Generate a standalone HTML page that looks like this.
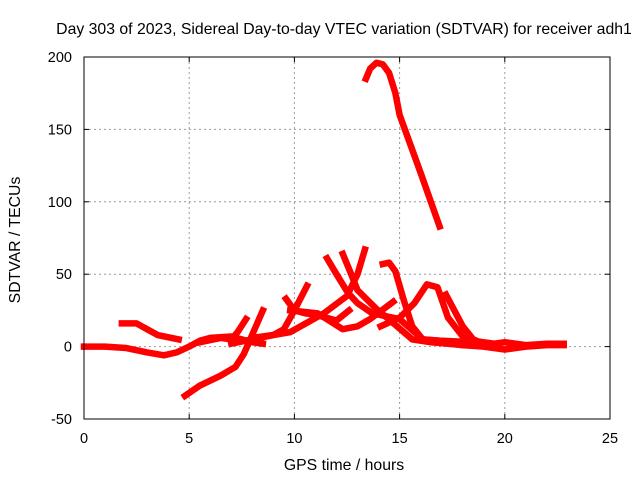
<!DOCTYPE html>
<html><head><meta charset="utf-8"><style>
body{margin:0;background:#fff;}
svg{display:block;font-family:"Liberation Sans",sans-serif;}
</style></head><body>
<svg id="chart" width="640" height="480">
<text x="344" y="34" text-anchor="middle" font-size="15.8">Day 303 of 2023, Sidereal Day-to-day VTEC variation (SDTVAR) for receiver adh1</text>
<g id="grid"></g>
<g id="ticks"></g>
<g id="series"></g>
<rect x="84" y="57" width="526" height="362" fill="none" stroke="#000" stroke-width="1"/>
<text x="344" y="470" text-anchor="middle" font-size="15.8">GPS time / hours</text>
<text transform="translate(20,240) rotate(-90)" text-anchor="middle" font-size="15.8">SDTVAR / TECUs</text>
</svg>
<script>
const xTicks=[0,5,10,15,20,25];
const yTicks=[-50,0,50,100,150,200];
const s1=[[0,0],[1,0],[2,-1],[3,-4],[3.8,-6],[4.4,-4],[5,0],[5.5,4],[6,6],[7,7],[7.5,5],[8,3],[8.5,2]];
const s2=[[1.8,16],[2.5,16],[3,12],[3.5,8],[4.5,5]];
const s3=[[4.8,-34],[5.5,-27],[6.5,-20],[7.2,-14],[7.6,-5],[7.9,5],[8.2,15],[8.5,25]];
const s4=[[5.5,3],[6.5,6],[7,5],[7.3,10],[7.7,19]];
const s5=[[7,2],[8,5],[9,8],[9.5,12],[10,25],[10.6,42]];
const s6=[[9.6,33],[10,25],[10.5,23],[11,22],[12,18],[12.6,25]];
const s7=[[11.55,61],[12,50],[12.55,37],[13,30],[13.7,23],[15,19],[16.1,5],[17,4],[18,3],[19,1]];
const s8=[[12.3,64],[12.7,50],[13,39],[13.9,26],[14.8,15],[15.6,5],[16.5,3],[18,1]];
const s9=[[8,6],[9,8],[9.8,10],[11.4,23],[12.5,35],[13,50],[13.35,67]];
const s10=[[9.8,25],[11.1,23],[12.3,12],[13,14],[13.6,19],[14.7,31]];
const s11=[[14.2,57],[14.5,58],[14.8,52],[15.2,32],[15.6,14],[16.1,5],[17,4],[18.5,3]];
const s12=[[14.1,14],[15,20],[15.7,30],[16.3,43],[16.8,41],[17.3,20],[18,7],[18.5,3]];
const s13=[[17.2,36],[17.6,25],[18,14],[18.5,5],[19,2]];
const s14=[[17,3],[18,1],[19,0],[20,-2],[21,0],[22,1],[22.8,1]];
const s15=[[18.5,4],[19.5,2],[20,3],[21,1],[22,2],[22.8,2]];
const s16=[[13.4,185],[13.6,192],[13.9,196],[14.2,195],[14.5,189],[14.8,175],[15,160],[16,120],[16.9,83]];
const allSeries=[s1,s2,s3,s4,s5,s6,s7,s8,s9,s10,s11,s12,s13,s14,s15,s16];
const NS="http://www.w3.org/2000/svg";
const X=v=>84+(v-0)*526/25;
const Y=v=>419-(v+50)*362/250;
const grid=document.getElementById('grid'),ticks=document.getElementById('ticks'),ser=document.getElementById('series');
function mk(tag,attrs,parent){const e=document.createElementNS(NS,tag);for(const k in attrs)e.setAttribute(k,attrs[k]);parent.appendChild(e);return e;}
xTicks.forEach(t=>{
  if(t>0&&t<25){const g=mk('line',{x1:X(t),x2:X(t),y1:57,y2:419,stroke:'#999','stroke-dasharray':'2,3'},grid);
  
  }
  const tk=mk('line',{x1:X(t),x2:X(t),y1:419,y2:414,stroke:'#000'},ticks);
  
  
  const tk2=mk('line',{x1:X(t),x2:X(t),y1:57,y2:62,stroke:'#000'},ticks);
  
  
  const l=mk('text',{x:X(t),y:443,'text-anchor':'middle','font-size':'14.5'},ticks);l.textContent=t;
  
  
});
yTicks.forEach(t=>{
  if(t>-50&&t<200){const g=mk('line',{x1:84,x2:610,y1:Y(t),y2:Y(t),stroke:'#999','stroke-dasharray':'2,3'},grid);
  
  }
  const tk=mk('line',{x1:84,x2:89,y1:Y(t),y2:Y(t),stroke:'#000'},ticks);
  
  
  const tk2=mk('line',{x1:605,x2:610,y1:Y(t),y2:Y(t),stroke:'#000'},ticks);
  
  
  const l=mk('text',{x:72,y:Y(t)+5,'text-anchor':'end','font-size':'14.5'},ticks);l.textContent=t;
  
  
});
allSeries.forEach((s,i)=>{
  const p=mk('polyline',{points:s.map(d=>X(d[0])+','+Y(d[1])).join(' '),fill:'none',stroke:'#ff0000','stroke-width':'6.5','stroke-linejoin':'round','stroke-linecap':'square'},ser);
  
  
});
</script>
</body></html>
